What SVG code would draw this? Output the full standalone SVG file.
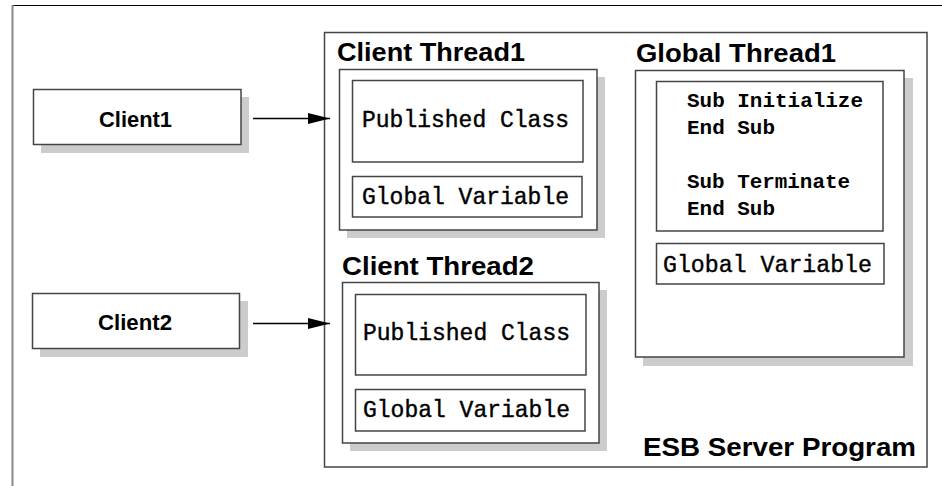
<svg xmlns="http://www.w3.org/2000/svg" width="942" height="486" viewBox="0 0 942 486">
  <style>
    .box { fill: #ffffff; stroke: #444444; stroke-width: 1.5; }
    .shadow { fill: #cccccc; stroke: none; }
    .title { font-family: "Liberation Sans", Arial, sans-serif; font-weight: bold; font-size: 25px; fill: #000000; }
    .client { font-family: "Liberation Sans", Arial, sans-serif; font-weight: bold; font-size: 22px; fill: #000000; }
    .mono { font-family: "Liberation Mono", "Courier New", monospace; font-size: 23px; fill: #000000; stroke: #000000; stroke-width: 0.4; }
    .code { font-family: "Liberation Mono", "Courier New", monospace; font-weight: bold; font-size: 21px; fill: #000000; }
    .link { fill: none; stroke: #000000; stroke-width: 1.5; }
  </style>
  <defs>
    <marker id="arrowhead" viewBox="0 0 22 11" markerWidth="22" markerHeight="11" refX="22" refY="5.5" markerUnits="userSpaceOnUse" orient="auto">
      <path d="M0,0 L22,5.5 L0,11 Z" fill="#000000"/>
    </marker>
  </defs>

  <rect x="0" y="0" width="942" height="486" fill="#ffffff"/>

  <!-- page frame: top and left rules -->
  <line x1="12" y1="5.5" x2="942" y2="5.5" stroke="#000000" stroke-width="1.2"/>
  <line x1="12.5" y1="5" x2="12.5" y2="486" stroke="#888888" stroke-width="2"/>

  <!-- server program container -->
  <g id="esb-server">
    <rect class="box" x="324.5" y="32.5" width="602.5" height="434.5"/>
    <text class="title" x="643" y="456" textLength="273" lengthAdjust="spacingAndGlyphs">ESB Server Program</text>
  </g>

  <g id="client1">
    <rect class="shadow" x="41" y="97" width="208" height="56"/>
    <rect class="box" x="33.5" y="89.5" width="207.5" height="55"/>
    <text class="client" x="99" y="127" textLength="73" lengthAdjust="spacingAndGlyphs">Client1</text>
  </g>

  <g id="client2">
    <rect class="shadow" x="40" y="301" width="208" height="56"/>
    <rect class="box" x="32.5" y="293.5" width="207" height="55"/>
    <text class="client" x="98" y="330" textLength="74" lengthAdjust="spacingAndGlyphs">Client2</text>
  </g>

  <g id="client-thread1">
    <text class="title" x="337" y="61" textLength="188" lengthAdjust="spacingAndGlyphs">Client Thread1</text>
    <rect class="shadow" x="347" y="77" width="258" height="161"/>
    <rect class="box" x="339.5" y="69.5" width="257.5" height="160.5"/>
    <rect class="box" x="352.5" y="80.5" width="230.5" height="81.5"/>
    <text class="mono" x="362" y="127" textLength="207" lengthAdjust="spacingAndGlyphs">Published Class</text>
    <rect class="box" x="352.5" y="176.5" width="229.5" height="40.5"/>
    <text class="mono" x="362" y="204" textLength="207" lengthAdjust="spacingAndGlyphs">Global Variable</text>
  </g>

  <g id="client-thread2">
    <text class="title" x="342" y="275" textLength="192" lengthAdjust="spacingAndGlyphs">Client Thread2</text>
    <rect class="shadow" x="350" y="290" width="257" height="161"/>
    <rect class="box" x="342.5" y="282.5" width="256.5" height="160.5"/>
    <rect class="box" x="355.5" y="294.5" width="230.5" height="80.5"/>
    <text class="mono" x="363" y="340" textLength="207" lengthAdjust="spacingAndGlyphs">Published Class</text>
    <rect class="box" x="355.5" y="389.5" width="229.5" height="41.5"/>
    <text class="mono" x="363" y="417" textLength="207" lengthAdjust="spacingAndGlyphs">Global Variable</text>
  </g>

  <g id="global-thread1">
    <text class="title" x="636" y="62" textLength="200" lengthAdjust="spacingAndGlyphs">Global Thread1</text>
    <rect class="shadow" x="643" y="78" width="270" height="288"/>
    <rect class="box" x="635.5" y="70.5" width="268.5" height="286.5"/>
    <rect class="box" x="656.5" y="81.5" width="226.5" height="149.5"/>
    <text class="code" x="687" y="107" textLength="176" lengthAdjust="spacingAndGlyphs">Sub Initialize</text>
    <text class="code" x="687" y="134" textLength="88" lengthAdjust="spacingAndGlyphs">End Sub</text>
    <text class="code" x="687" y="188" textLength="163" lengthAdjust="spacingAndGlyphs">Sub Terminate</text>
    <text class="code" x="687" y="215" textLength="88" lengthAdjust="spacingAndGlyphs">End Sub</text>
    <rect class="box" x="656.5" y="243.5" width="227.5" height="40.5"/>
    <text class="mono" x="663" y="272" textLength="209" lengthAdjust="spacingAndGlyphs">Global Variable</text>
  </g>

  <g id="connectors">
    <line class="link" x1="253" y1="118.5" x2="330" y2="118.5" marker-end="url(#arrowhead)"/>
    <line class="link" x1="253" y1="323.5" x2="330" y2="323.5" marker-end="url(#arrowhead)"/>
  </g>
</svg>
